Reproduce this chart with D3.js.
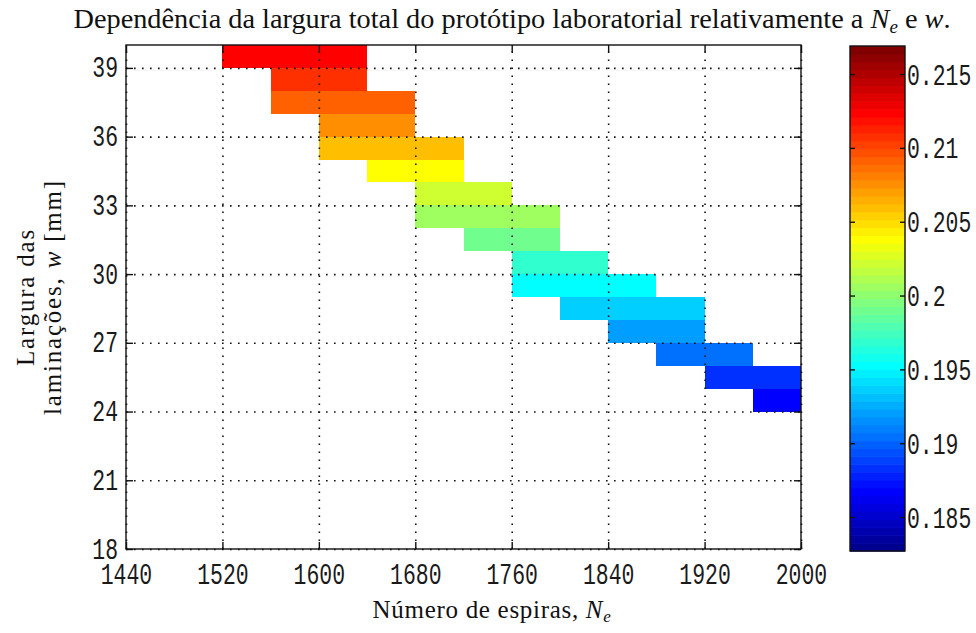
<!DOCTYPE html>
<html>
<head>
<meta charset="utf-8">
<script src="https://cdn.jsdelivr.net/npm/d3@7"></script>
<style>
  body { margin: 0; background: #fff; }
  svg { display: block; }
  .tick-label { font-family: "Liberation Mono", monospace; fill: #1a1a1a; }
  .label { font-family: "Liberation Serif", "Times New Roman", serif; fill: #111; }
</style>
</head>
<body>
<svg id="chart" width="976" height="633"></svg>
<script>
// Axis ticks
const turnTicks = [1440, 1520, 1600, 1680, 1760, 1840, 1920, 2000];
const widthTicks = [18, 21, 24, 27, 30, 33, 36, 39];
const colorTicks = [0.185, 0.19, 0.195, 0.2, 0.205, 0.21, 0.215];

// Grid of the map: left edge of each turns column, bottom edge of each lamination row
const turnsStep = 40;
const turns = [1520, 1560, 1600, 1640, 1680, 1720, 1760, 1800, 1840, 1880, 1920, 1960];
const widthStep = 1;
const laminations = [39, 38, 37, 36, 35, 34, 33, 32, 31, 30, 29, 28, 27, 26, 25, 24];

// Total width of the prototype [m]; one row per lamination width, one column per turns value
const _ = null;
const totalWidth = [
  [0.2123, 0.2123, 0.2123, _, _, _, _, _, _, _, _, _],
  [_, 0.2107, 0.2107, _, _, _, _, _, _, _, _, _],
  [_, 0.2091, 0.2091, 0.2091, _, _, _, _, _, _, _, _],
  [_, _, 0.2075, 0.2075, _, _, _, _, _, _, _, _],
  [_, _, 0.2057, 0.2057, 0.2057, _, _, _, _, _, _, _],
  [_, _, _, 0.2038, 0.2038, _, _, _, _, _, _, _],
  [_, _, _, _, 0.2022, 0.2022, _, _, _, _, _, _],
  [_, _, _, _, 0.2006, 0.2006, 0.2006, _, _, _, _, _],
  [_, _, _, _, _, 0.1990, 0.1990, _, _, _, _, _],
  [_, _, _, _, _, _, 0.1969, 0.1969, _, _, _, _],
  [_, _, _, _, _, _, 0.1953, 0.1953, 0.1953, _, _, _],
  [_, _, _, _, _, _, _, 0.1935, 0.1935, 0.1935, _, _],
  [_, _, _, _, _, _, _, _, 0.1921, 0.1921, _, _],
  [_, _, _, _, _, _, _, _, _, 0.1904, 0.1904, _],
  [_, _, _, _, _, _, _, _, _, _, 0.1883, 0.1883],
  [_, _, _, _, _, _, _, _, _, _, _, 0.1867]
];

const colorLimits = [0.1827, 0.2169];
const colorLevels = 64;

// MATLAB-style jet colormap with a fixed number of levels
function jetColor(k, n) {
  const m = n / 4;
  const u = j => (j < 1 || j > 3 * m - 1) ? 0 : j <= m ? j / m : j <= 2 * m ? 1 : (3 * m - j) / m;
  const g0 = Math.ceil(m / 2) - (n % 4 === 1 ? 1 : 0);
  const idx = k + 1;
  const r = u(idx - g0 - m), g = u(idx - g0), b = u(idx - g0 + m);
  return d3.rgb(Math.round(r * 255), Math.round(g * 255), Math.round(b * 255)).toString();
}
const levelScale = d3.scaleQuantize().domain(colorLimits).range(d3.range(colorLevels));
const colorOf = v => jetColor(levelScale(v), colorLevels);

const svg = d3.select("#chart");
svg.append("rect").attr("width", 976).attr("height", 633).attr("fill", "#fff");

const plot = { left: 126, right: 801, top: 45, bottom: 549 };
const x = d3.scaleLinear().domain([1440, 2000]).range([plot.left, plot.right]);
const y = d3.scaleLinear().domain([18, 40]).range([plot.bottom, plot.top]);

const sx = 0.74;      // horizontal squeeze of the tick font
const tickFont = 29;

// Cells
const cells = [];
laminations.forEach((w, i) => turns.forEach((n, j) => {
  const v = totalWidth[i][j];
  if (v !== null) cells.push({ n, w, v });
}));
svg.append("g").selectAll("rect").data(cells).join("rect")
  .attr("x", d => x(d.n))
  .attr("y", d => y(d.w + widthStep))
  .attr("width", d => x(d.n + turnsStep) - x(d.n))
  .attr("height", d => y(d.w) - y(d.w + widthStep))
  .attr("fill", d => colorOf(d.v))
  .attr("shape-rendering", "crispEdges");

// Dotted grid
const grid = svg.append("g").attr("class", "grid");
grid.append("g").attr("transform", `translate(0,${plot.bottom})`)
  .call(d3.axisBottom(x).tickValues(turnTicks).tickSize(-(plot.bottom - plot.top)).tickFormat(""));
grid.append("g").attr("transform", `translate(${plot.left},0)`)
  .call(d3.axisLeft(y).tickValues(widthTicks).tickSize(-(plot.right - plot.left)).tickFormat(""));
grid.selectAll(".domain").remove();
grid.selectAll("line").attr("stroke", "#111").attr("stroke-width", 1.6)
  .attr("stroke-dasharray", "1.6,6.4").attr("stroke-linecap", "butt");

// Frame
svg.append("rect")
  .attr("x", plot.left).attr("y", plot.top)
  .attr("width", plot.right - plot.left).attr("height", plot.bottom - plot.top)
  .attr("fill", "none").attr("stroke", "#111").attr("stroke-width", 1.4);

// Axes with inward ticks on every side
function styleAxis(g) {
  g.select(".domain").remove();
  g.selectAll("line").attr("stroke", "#111").attr("stroke-width", 1.4);
}
const xAxis = svg.append("g").attr("transform", `translate(0,${plot.bottom})`)
  .call(d3.axisBottom(x).tickValues(turnTicks).tickSizeInner(-7).tickSizeOuter(0).tickFormat(d3.format("d")))
  .call(styleAxis);
xAxis.selectAll("text").attr("class", "tick-label").attr("font-size", tickFont)
  .attr("y", 35).attr("dy", null).attr("transform", `scale(${sx},1)`);

svg.append("g").attr("transform", `translate(0,${plot.top})`)
  .call(d3.axisTop(x).tickValues(turnTicks).tickSizeInner(-7).tickSizeOuter(0).tickFormat(""))
  .call(styleAxis);

const yAxis = svg.append("g").attr("transform", `translate(${plot.left},0)`)
  .call(d3.axisLeft(y).tickValues(widthTicks).tickSizeInner(-7).tickSizeOuter(0).tickFormat(d3.format("d")))
  .call(styleAxis);
yAxis.selectAll("text").attr("class", "tick-label").attr("font-size", tickFont)
  .attr("x", -8 / sx).attr("y", 9).attr("dy", null).attr("transform", `scale(${sx},1)`);

svg.append("g").attr("transform", `translate(${plot.right},0)`)
  .call(d3.axisRight(y).tickValues(widthTicks).tickSizeInner(-7).tickSizeOuter(0).tickFormat(""))
  .call(styleAxis);

// Colorbar
const cb = { left: 850, right: 905, top: 46, bottom: 551 };
const cy = d3.scaleLinear().domain(colorLimits).range([cb.bottom, cb.top]);
const bandEdges = d3.range(colorLevels + 1).map(k => colorLimits[0] + (colorLimits[1] - colorLimits[0]) * k / colorLevels);
svg.append("g").selectAll("rect").data(d3.range(colorLevels)).join("rect")
  .attr("x", cb.left).attr("width", cb.right - cb.left)
  .attr("y", k => cy(bandEdges[k + 1]))
  .attr("height", k => cy(bandEdges[k]) - cy(bandEdges[k + 1]) + 0.6)
  .attr("fill", k => jetColor(k, colorLevels));
svg.append("rect")
  .attr("x", cb.left).attr("y", cb.top)
  .attr("width", cb.right - cb.left).attr("height", cb.bottom - cb.top)
  .attr("fill", "none").attr("stroke", "#111").attr("stroke-width", 1.4);
const cAxis = svg.append("g").attr("transform", `translate(${cb.right},0)`)
  .call(d3.axisRight(cy).tickValues(colorTicks).tickSizeInner(-5).tickSizeOuter(0).tickFormat(d3.format("")))
  .call(styleAxis);
cAxis.selectAll("text").attr("class", "tick-label").attr("font-size", tickFont)
  .attr("x", 2 / sx).attr("y", 10).attr("dy", null).attr("transform", `scale(${sx},1)`);
svg.append("g").attr("transform", `translate(${cb.left},0)`)
  .call(d3.axisLeft(cy).tickValues(colorTicks).tickSizeInner(-5).tickSizeOuter(0).tickFormat(""))
  .call(styleAxis);

// Title
const title = svg.append("text").attr("class", "label")
  .attr("x", 512).attr("y", 28).attr("text-anchor", "middle").attr("font-size", 28.3);
title.append("tspan").text("Dependência da largura total do protótipo laboratorial relativamente a ");
title.append("tspan").attr("font-style", "italic").text("N");
title.append("tspan").attr("font-style", "italic").attr("font-size", 19).attr("dy", 5).text("e");
title.append("tspan").attr("dy", -5).text(" e ");
title.append("tspan").attr("font-style", "italic").text("w");
title.append("tspan").text(".");

// X label
const xl = svg.append("text").attr("class", "label")
  .attr("x", 492).attr("y", 618).attr("text-anchor", "middle").attr("font-size", 25)
  .attr("letter-spacing", 0.7);
xl.append("tspan").text("Número de espiras, ");
xl.append("tspan").attr("font-style", "italic").text("N");
xl.append("tspan").attr("font-style", "italic").attr("font-size", 17).attr("dy", 4).text("e");

// Y label (two lines)
const yl = svg.append("g").attr("transform", `translate(0,${(plot.top + plot.bottom) / 2}) rotate(-90)`);
yl.append("text").attr("class", "label").attr("x", 0).attr("y", 34)
  .attr("text-anchor", "middle").attr("font-size", 25).attr("letter-spacing", 1.8).text("Largura das");
const l2 = yl.append("text").attr("class", "label").attr("x", 0).attr("y", 61)
  .attr("text-anchor", "middle").attr("font-size", 25).attr("letter-spacing", 1.8);
l2.append("tspan").text("laminações, ");
l2.append("tspan").attr("font-style", "italic").text("w");
l2.append("tspan").text(" [mm]");
</script>
</body>
</html>
